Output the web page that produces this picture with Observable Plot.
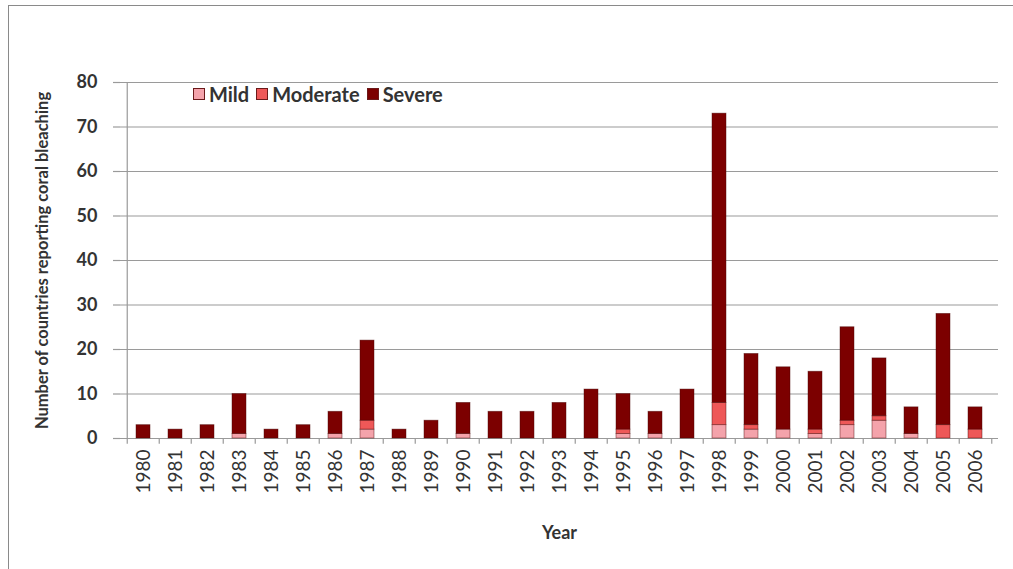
<!DOCTYPE html>
<html>
<head>
<meta charset="utf-8">
<script src="https://cdn.jsdelivr.net/npm/d3@7"></script>
<script src="https://cdn.jsdelivr.net/npm/@observablehq/plot@0.6"></script>
<style>
  html, body { margin: 0; padding: 0; background: #fff; overflow: hidden; }
  #wrap { position: relative; width: 1013px; height: 569px; }
  #border { position: absolute; left: 8px; top: 5px; width: 1100px; height: 700px; border: 1.5px solid #8a8a8a; box-sizing: border-box; }
  #legend { position: absolute; left: 193px; top: 82px; font-family: Lato, "Open Sans", sans-serif; font-weight: bold; font-size: 20px; color: #333; display: flex; align-items: center; }
  #legend .sw { display: inline-block; width: 10px; height: 10px; border: 1px solid #6b1a1a; margin-right: 4px; }
  #legend .item { display: flex; align-items: center; margin-right: 7px; }
  #chart { position: absolute; left: 0; top: 0; }
</style>
</head>
<body>
<div id="wrap">
  <div id="border"></div>
  <div id="chart"></div>
  <div id="legend"></div>
</div>
<script>
const years = ["1980","1981","1982","1983","1984","1985","1986","1987","1988","1989","1990","1991","1992","1993","1994","1995","1996","1997","1998","1999","2000","2001","2002","2003","2004","2005","2006"];
const mild =     [0,0,0,1,0,0,1,2,0,0,1,0,0,0,0,1,1,0,3,2,2,1,3,4,1,0,0];
const moderate = [0,0,0,0,0,0,0,2,0,0,0,0,0,0,0,1,0,0,5,1,0,1,1,1,0,3,2];
const severe =   [3,2,3,9,2,3,5,18,2,4,7,6,6,8,11,8,5,11,65,16,14,13,21,13,6,25,5];
const levels = ["Mild","Moderate","Severe"];
const colors = ["#f4a3ab","#ee5858","#7c0000"];
const yTicks = [0,10,20,30,40,50,60,70,80];

const rows = [];
years.forEach((y, i) => {
  rows.push({year: y, level: "Mild", value: mild[i]});
  rows.push({year: y, level: "Moderate", value: moderate[i]});
  rows.push({year: y, level: "Severe", value: severe[i]});
});

const W = 1013, H = 569, mL = 120, mR = 15;
const bw = (W - mL - mR) / years.length;

const chart = Plot.plot({
  width: W,
  height: H,
  marginLeft: mL,
  marginRight: mR,
  marginTop: 82,
  marginBottom: 131,
  style: {fontFamily: "Lato, 'Open Sans', sans-serif", color: "#333", background: "transparent"},
  x: {domain: years, paddingInner: 0.56, paddingOuter: 0.28, label: null},
  y: {domain: [0, 80], label: null},
  color: {domain: levels, range: colors},
  marks: [
    Plot.gridY(yTicks, {stroke: "#9a9a9a", strokeOpacity: 1, strokeWidth: 1.2}),
    Plot.ruleY([0], {stroke: "#9a9a9a", strokeWidth: 1.2}),
    Plot.ruleX([years[0]], {y1: 0, y2: 80, stroke: "#9a9a9a", strokeWidth: 1.2, dx: -bw / 2}),
    Plot.ruleX(years, {y1: 0, y2: -1.3, stroke: "#9a9a9a", strokeWidth: 1.2, dx: -bw / 2}),
    Plot.ruleX([years[years.length - 1]], {y1: 0, y2: -1.3, stroke: "#9a9a9a", strokeWidth: 1.2, dx: bw / 2}),
    Plot.barY(rows, Plot.stackY({order: levels}, {x: "year", y: "value", fill: "level", stroke: "#4a0808", strokeWidth: 0.8, strokeOpacity: 0.55})),
    Plot.axisY(yTicks, {tickSize: 7, stroke: "#9a9a9a", strokeWidth: 1.2, strokeOpacity: 1, fill: "#333", tickPadding: 16, fontSize: 18, fontWeight: "bold", label: "Number of countries reporting coral bleaching", labelAnchor: "center", labelArrow: "none", labelOffset: 84}),
    Plot.axisX({tickSize: 0, tickRotate: -90, tickPadding: 11, fontSize: 19, fill: "#333", label: "Year", labelAnchor: "center", labelArrow: "none", labelOffset: 100})
  ]
});

chart.querySelectorAll("g[aria-label='y-axis label'] text, g[aria-label='x-axis label'] text").forEach(t => {
  t.setAttribute("font-weight", "bold");
  t.setAttribute("fill", "#333");
});
chart.querySelectorAll("g[aria-label='y-axis label'] text").forEach(t => t.setAttribute("font-size", "16.5"));
chart.querySelectorAll("g[aria-label='x-axis label'] text").forEach(t => t.setAttribute("font-size", "18"));
document.getElementById("chart").appendChild(chart);

const legend = document.getElementById("legend");
levels.forEach((l, i) => {
  const item = document.createElement("span");
  item.className = "item";
  const sw = document.createElement("span");
  sw.className = "sw";
  sw.style.background = colors[i];
  item.appendChild(sw);
  item.appendChild(document.createTextNode(l));
  legend.appendChild(item);
});
</script>
</body>
</html>
